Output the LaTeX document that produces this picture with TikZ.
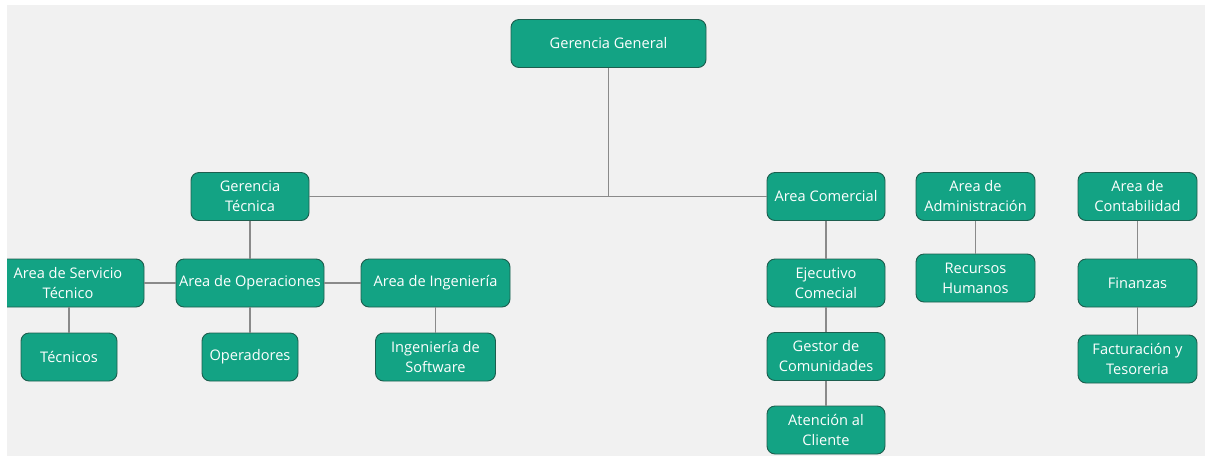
\documentclass[tikz,border=0pt]{standalone}
\usepackage{fontspec}
\setmainfont{Open Sans}
\definecolor{bgc}{HTML}{F1F1F1}
\definecolor{boxc}{HTML}{13A384}
\definecolor{edgec}{HTML}{1D5E4E}
\definecolor{linec}{HTML}{8A8A8A}
\begin{document}
\begin{tikzpicture}[x=1pt,y=-1pt,
  box/.style={draw=edgec, line width=0.9pt, fill=boxc, rounded corners=8pt,
    text=white, align=center, font=\fontsize{14.6}{20}\selectfont,
    inner sep=0pt, minimum height=48pt},
  link/.style={draw=linec, line width=1.3pt}]
\useasboundingbox (0,0) rectangle (1205,456);
\fill[white] (0,0) rectangle (1205,456);
\fill[bgc] (7,5) rectangle (1205,456);
\begin{scope}
\clip (7,5) rectangle (1205,456);
\node[box, minimum width=195pt] (gg) at (608.5,43.5) {Gerencia General};
\node[box, minimum width=118pt] (gt) at (250,196.5) {Gerencia\\Técnica};
\node[box, minimum width=118pt] (ac) at (826,196.5) {Area Comercial};
\node[box, minimum width=119pt] (aa) at (975.5,196.5) {Area de\\Administración};
\node[box, minimum width=119pt] (acon) at (1137.5,196.5) {Area de\\Contabilidad};
\node[box, minimum width=152pt] (ast) at (68,283) {Area de Servicio\\Técnico};
\node[box, minimum width=148pt] (ao) at (250,283) {Area de Operaciones};
\node[box, minimum width=149pt] (ai) at (435.5,283) {Area de Ingeniería};
\node[box, minimum width=96pt] (tec) at (69,357) {Técnicos};
\node[box, minimum width=96pt] (ope) at (250,357) {Operadores};
\node[box, minimum width=120pt] (isw) at (435.5,357) {Ingeniería de\\Software};
\node[box, minimum width=118pt] (ec) at (826,283) {Ejecutivo\\Comecial};
\node[box, minimum width=118pt] (gc) at (826,356.5) {Gestor de\\Comunidades};
\node[box, minimum width=118pt] (atc) at (826,430) {Atención al\\Cliente};
\node[box, minimum width=119pt] (rh) at (975.5,278) {Recursos\\Humanos};
\node[box, minimum width=119pt] (fin) at (1137.5,283) {Finanzas};
\node[box, minimum width=119pt] (fyt) at (1137.5,359) {Facturación y\\Tesoreria};
\end{scope}
\coordinate (j) at (gg.south |- gt.east);
\draw[link] (gg.south) -- (j);
\draw[link] (gt.east) -- (ac.west);
\draw[link] (gt.south) -- (ao.north);
\draw[link] (ao.west) -- (ast.east);
\draw[link] (ao.east) -- (ai.west);
\draw[link] (ast.south -| tec.north) -- (tec.north);
\draw[link] (ao.south) -- (ope.north);
\draw[link] (ai.south) -- (isw.north);
\draw[link] (ac.south) -- (ec.north);
\draw[link] (ec.south) -- (gc.north);
\draw[link] (gc.south) -- (atc.north);
\draw[link] (aa.south) -- (rh.north);
\draw[link] (acon.south) -- (fin.north);
\draw[link] (fin.south) -- (fyt.north);
\end{tikzpicture}
\end{document}
